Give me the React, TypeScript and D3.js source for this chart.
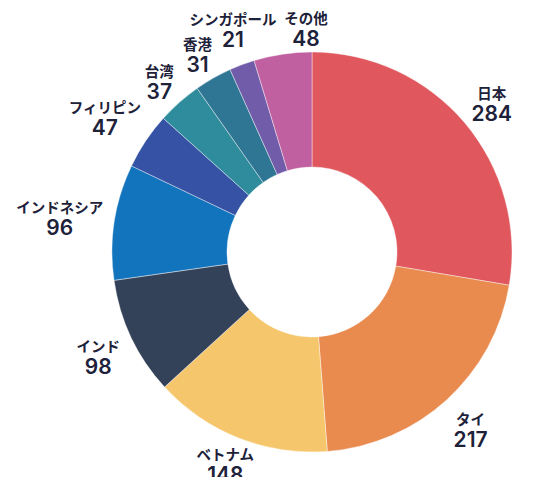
import React from 'react';
import * as d3 from 'd3';

const categories = ['日本', 'タイ', 'ベトナム', 'インド', 'インドネシア', 'フィリピン', '台湾', '香港', 'シンガポール', 'その他'];
const values = [284, 217, 148, 98, 96, 47, 37, 31, 21, 48];
const palette = ['#E0585E', '#E98A4F', '#F5C66B', '#344259', '#1174BD', '#3552A4', '#2E8C9C', '#2E7693', '#705CA8', '#C060A0'];

const W = 533;
const H = 477;
const CX = 312;
const CY = 252;
const R_OUT = 200;
const R_IN = 85;
const RB = 210;
const NAME_SIZE = 14.5;
const NUM_SIZE = 21;
const LINE_GAP = 22;
const GAP = 8;
const TEXT_COLOR = '#1d2139';
const FONT = "Inter, 'Noto Sans CJK JP', 'Noto Sans', sans-serif";

type Box = { wName: number; wNum: number; w: number; h: number };

function measure(name: string, val: number): Box {
  const wName = name.length * 14.4;
  const wNum = String(val).length * 12.8;
  return { wName, wNum, w: Math.max(wName, wNum), h: 33 };
}

function place(theta: number, b: Box) {
  const s = Math.sin(theta);
  const c = Math.cos(theta);
  const d = RB + (Math.abs(s) * b.w) / 2 + (Math.abs(c) * b.h) / 2;
  return { x: CX + d * s, y: CY - d * c };
}

function rects(p: { x: number; y: number }, b: Box) {
  return [
    { x0: p.x - b.wName / 2, x1: p.x + b.wName / 2, y0: p.y - 17, y1: p.y - 3 },
    { x0: p.x - b.wNum / 2, x1: p.x + b.wNum / 2, y0: p.y, y1: p.y + 17 },
  ];
}

function overlaps(ra: any[], rb: any[]) {
  for (const a of ra) {
    for (const b of rb) {
      if (a.x0 < b.x1 + GAP && b.x0 < a.x1 + GAP && a.y0 < b.y1 + 2 && b.y0 < a.y1 + 2) return true;
    }
  }
  return false;
}

export default function App() {
  const pie = d3
    .pie<number>()
    .sort(null)
    .value((d) => d)
    .startAngle(0)
    .endAngle(2 * Math.PI);
  const arcs = pie(values);
  const arc = d3.arc<d3.PieArcDatum<number>>().innerRadius(R_IN).outerRadius(R_OUT);

  const boxes = arcs.map((a, i) => measure(categories[i], values[i]));
  const thetas = arcs.map((a) => (a.startAngle + a.endAngle) / 2);
  const n = arcs.length;
  for (let it = 0; it < 600; it++) {
    let moved = false;
    for (let i = 0; i < n - 1; i++) {
      const j = i + 1;
      const ri = rects(place(thetas[i], boxes[i]), boxes[i]);
      const rj = rects(place(thetas[j], boxes[j]), boxes[j]);
      if (overlaps(ri, rj)) {
        thetas[j] += 0.002;
        moved = true;
      }
    }
    if (!moved) break;
  }
  // keep the label name line inside the drawing area
  const positions = thetas.map((t, i) => {
    const p = place(t, boxes[i]);
    return { x: p.x, y: Math.min(p.y, H - 16) };
  });

  return (
    <svg
      width={W}
      height={H}
      viewBox={`0 0 ${W} ${H}`}
      style={{ position: 'absolute', left: 0, top: 0, background: '#ffffff' }}
    >
      <g transform={`translate(${CX},${CY})`}>
        {arcs.map((a, i) => (
          <path
            key={categories[i]}
            d={arc(a) || ''}
            fill={palette[i]}
            stroke="#ffffff"
            strokeOpacity={0.7}
            strokeWidth={0.6}
          />
        ))}
      </g>
      {positions.map((p, i) => (
        <g key={'l' + i} fontFamily={FONT} fill={TEXT_COLOR} textAnchor="middle">
          <text x={p.x} y={p.y - 1} fontSize={NAME_SIZE} fontWeight={700}>
            {categories[i]}
          </text>
          <text x={p.x} y={p.y - 1 + LINE_GAP} fontSize={NUM_SIZE} fontWeight={600}>
            {values[i]}
          </text>
        </g>
      ))}
    </svg>
  );
}
